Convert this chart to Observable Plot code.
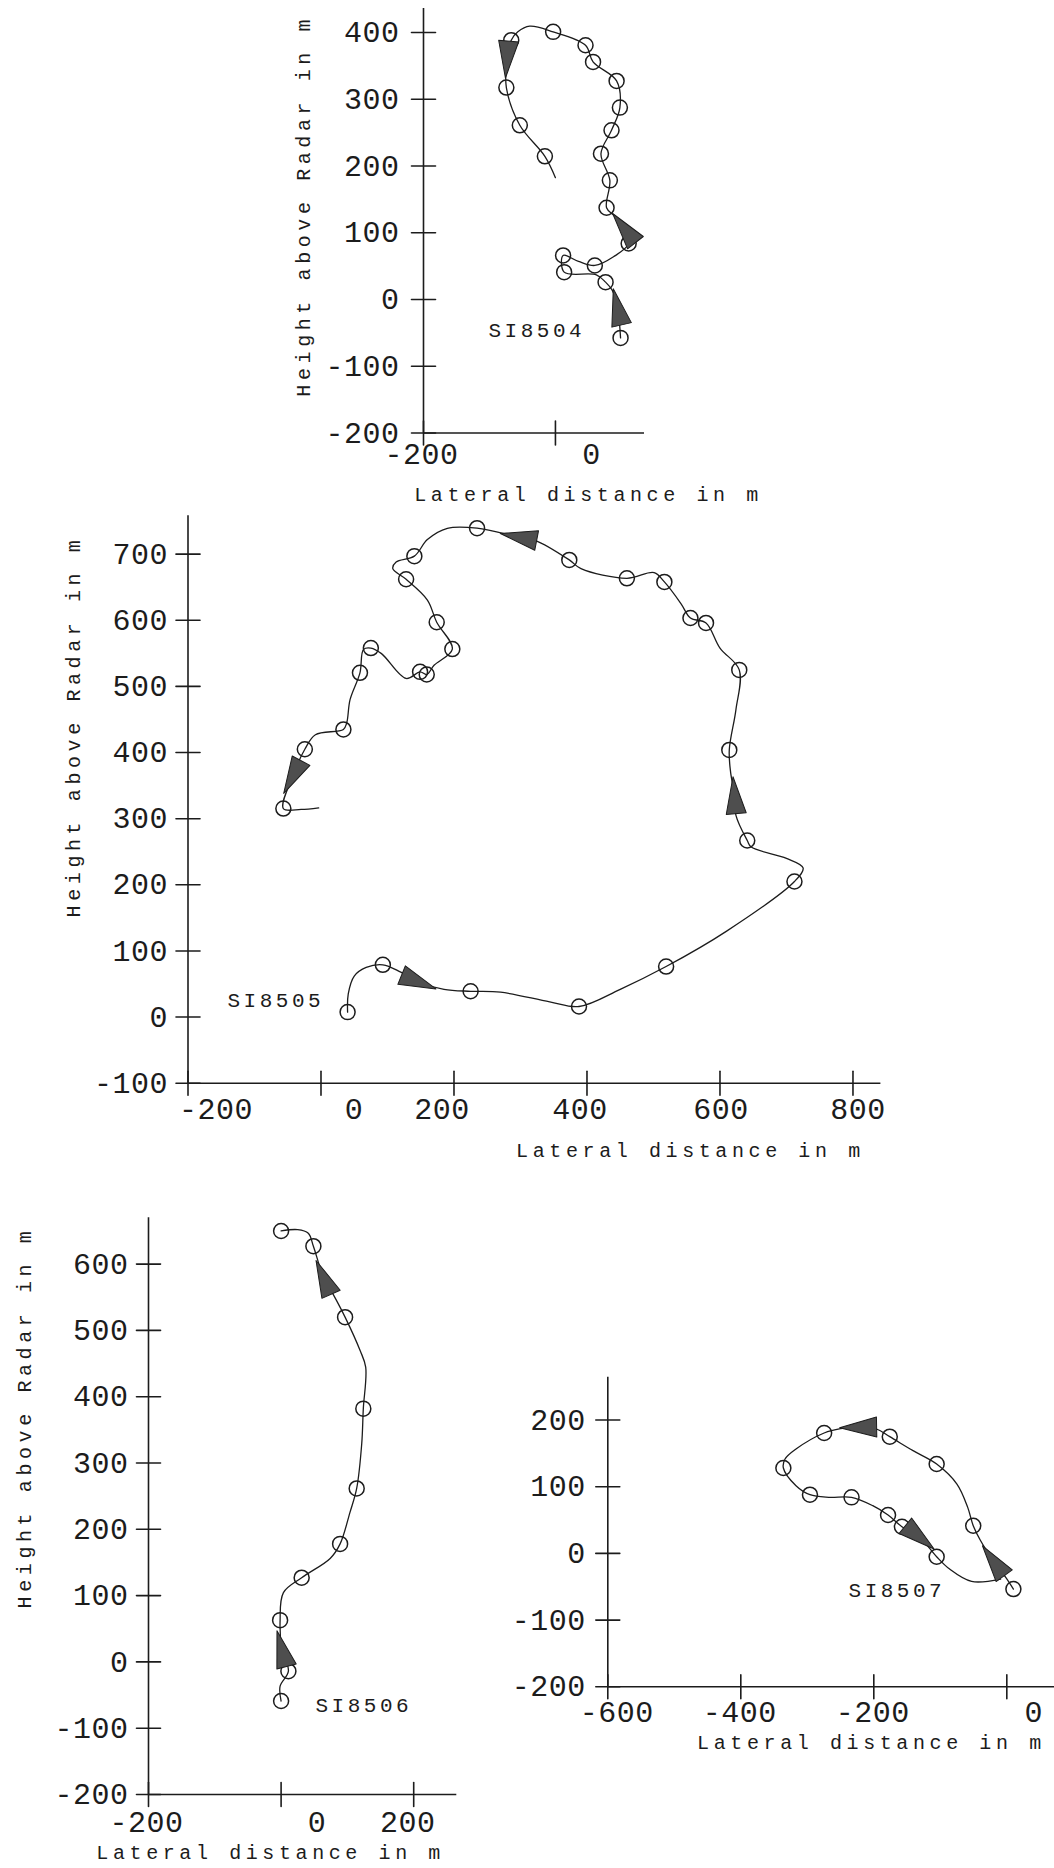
<!DOCTYPE html>
<html><head><meta charset="utf-8">
<script src="https://cdn.jsdelivr.net/npm/d3@7"></script>
<script src="https://cdn.jsdelivr.net/npm/@observablehq/plot@0.6"></script>
<style>
html,body{margin:0;padding:0;background:#fff;}
#page{position:relative;width:1054px;height:1868px;overflow:hidden;background:#fff;}
#page svg{position:absolute;overflow:visible;}
g[font-size="30"] text{letter-spacing:0.5px;}
g[font-size="20"] text{letter-spacing:4.6px;}
g[font-size="21"] text{letter-spacing:3.5px;}
</style></head><body><div id="page"></div>
<script>
// ---------- DATA ----------
// Kind: "o" = plotted position (circle), "." = track vertex, ">" = direction arrow on the track
const si8504X = [98.7, 94, 86, 76, 62, 13.2, 11.6, 35, 59.7, 88, 111, 104, 88.6, 77.5, 82.5, 69, 85, 97.7, 92.7, 57, 45.6, -3.5, -39, -57, -67, -73.4, -74.4, -54, -16, 0];
const si8504Y = [-57.5, -11, 14, 26, 37, 41, 66, 57, 51, 64, 84, 107, 126, 137.5, 178.5, 218.5, 253.5, 287.5, 327.5, 356, 381, 401, 409.5, 401, 388.5, 359.5, 317.5, 261, 214.5, 182.5];
const si8504Kind = ["o", ">", ".", "o", ".", "o", "o", ".", "o", ".", "o", ">", ".", "o", "o", "o", "o", "o", "o", "o", "o", "o", ".", ".", "o", ">", "o", "o", "o", "."];
const si8504ArrowDeg = [-13, -38, 185];

const si8505X = [40, 41, 50, 68, 93, 120, 147, 185, 225, 270, 344, 388, 450, 519, 610, 712, 725, 700, 647, 641, 624, 622, 616, 614, 624, 629, 600, 579, 555.6, 541.5, 516.4, 501, 460, 391, 373.4, 322, 297, 234.7, 190, 160, 140.4, 113, 108, 128, 160, 174, 197.5, 170, 159, 149, 128, 91, 75, 64, 58.6, 43.7, 38.7, 33.7, -8.4, -24.3, -43, -56.6, -30, -3.5];
const si8505Y = [7.5, 35, 62, 75, 79, 68, 53, 42, 39, 37.6, 23, 16, 42, 76.4, 130, 205, 225.6, 240, 257, 267, 305, 335.5, 370, 404, 465, 525, 558, 596, 603.4, 625, 658, 672, 663.5, 678, 691.3, 721, 726, 739.3, 739, 722, 697, 688, 678, 662, 630.6, 597, 556.5, 532, 518, 522, 512, 549.6, 558, 556, 520.6, 480, 445, 435, 427, 405, 363, 315.3, 314, 316.4];
const si8505Kind = ["o", ".", ".", ".", "o", ".", ">", ".", "o", ".", ".", "o", ".", "o", ".", "o", ".", ".", ".", "o", ".", ">", ".", "o", ".", "o", ".", "o", "o", ".", "o", ".", "o", ".", "o", ".", ">", "o", ".", ".", "o", ".", ".", "o", ".", "o", "o", ".", "o", "o", ".", ".", "o", ".", "o", ".", ".", "o", ".", "o", ">", "o", ".", "."];
const si8505ArrowDeg = [112, -5, -79, -152];

const si8506X = [0, -1.5, 11, 1, -1.5, 3.5, 31, 74, 89, 104, 114, 121.6, 124, 127.6, 119, 96.5, 79, 64, 48.7, 41, 25, 0];
const si8506Y = [-59, -36.6, -14, 20, 63, 104.5, 127, 156, 178, 226, 261.7, 329, 382, 444.5, 470, 520, 553.6, 580, 627, 646.5, 652, 650];
const si8506Kind = ["o", ".", "o", ">", "o", ".", "o", ".", "o", ".", "o", ".", "o", ".", ".", "o", ".", ">", "o", ".", ".", "o"];
const si8506ArrowDeg = [-15, -24];

const si8507X = [9.9, -1.6, -20.3, -40, -50.5, -58.8, -75, -105.5, -141, -176, -196, -223.6, -250, -274.7, -317, -333.5, -336, -317, -296, -267.6, -233.5, -201.6, -178.6, -157.7, -131, -105.5, -86, -53, -9.3];
const si8507Y = [-53.5, -36, -11, 20, 41.5, 69, 104, 134, 154, 175, 186.5, 189, 187, 180.5, 156.5, 141.5, 128, 101.5, 88, 84, 84, 71.5, 57.5, 40, 24, -5, -23.5, -42, -38.5];
const si8507Kind = ["o", ".", ">", ".", "o", ".", ".", "o", ".", "o", ".", ">", ".", "o", ".", ".", "o", ".", "o", ".", "o", ".", "o", "o", ">", "o", ".", ".", "."];
const si8507ArrowDeg = [-36, -91, 129];

// flight id label anchors (data units)
const idLabels = [
  {id: "SI8504", x: -101.5, y: -46.4},
  {id: "SI8505", x: -140.6, y: 26},
  {id: "SI8506", x: 51.9, y: -65.8},
  {id: "SI8507", x: -238, y: -55.6}
];

// tick values
const p1XTicks = [-200, 0];
const p1YTicks = [-200, -100, 0, 100, 200, 300, 400];
const p2XTicks = [-200, 0, 200, 400, 600, 800];
const p2YTicks = [-100, 0, 100, 200, 300, 400, 500, 600, 700];
const p3XTicks = [-200, 0, 200];
const p3YTicks = [-200, -100, 0, 100, 200, 300, 400, 500, 600];
const p4XTicks = [-600, -400, -200, 0];
const p4YTicks = [-200, -100, 0, 100, 200];

const xTitle = "Lateral distance in m";
const yTitle = "Height above Radar in m";

// ---------- DRAWING ----------
const FONT = "'Liberation Mono', 'DejaVu Sans Mono', monospace";
const INK = "#1c1c1c";
const triangleShape = {
  draw(context, l) {
    const w = 10;
    context.moveTo(-w, 0);
    context.lineTo(0, -l);
    context.lineTo(w, 0);
    context.closePath();
  }
};
const tickShape = {
  draw(context, l) {
    context.moveTo(0, 0);
    context.lineTo(0, -l);
  }
};

function panel(cfg) {
  const {left, top, width, height, x0px, x1px, y0px, y1px, xDomain, yDomain,
    xTicks, yTicks, xLabelDx, xLabelDy, yLabelDx, X, Y, K, A, label,
    xTitleD, yTitleD} = cfg;
  const idx = d3.range(X.length);
  const circles = idx.filter(i => K[i] === "o");
  const arrows = idx.filter(i => K[i] === ">");
  const rot = i => A[arrows.indexOf(i)];
  const marks = [
    Plot.ruleX([xDomain[0]], {stroke: INK, strokeWidth: 1.6}),
    Plot.ruleY([yDomain[0]], {stroke: INK, strokeWidth: 1.6}),
    Plot.vector(xTicks, {x: d => d, y: () => yDomain[0], length: 24, rotate: 0, anchor: "middle", shape: tickShape, stroke: INK, strokeWidth: 1.6}),
    Plot.vector(yTicks, {x: () => xDomain[0], y: d => d, length: 24, rotate: 90, anchor: "middle", shape: tickShape, stroke: INK, strokeWidth: 1.6}),
    ...xTicks.map((t, i) => Plot.text([t], {x: d => d, frameAnchor: "bottom", lineAnchor: "middle", textAnchor: "middle", dy: xLabelDy, dx: xLabelDx[i], fontSize: 30, fill: INK})),
    Plot.text(yTicks, {y: d => d, frameAnchor: "left", dx: yLabelDx, textAnchor: "end", lineAnchor: "middle", fontSize: 30, fill: INK}),
    Plot.line(idx, {x: i => X[i], y: i => Y[i], curve: "catmull-rom", stroke: INK, strokeWidth: 1.3}),
    Plot.dot(circles, {x: i => X[i], y: i => Y[i], r: 7.5, stroke: INK, strokeWidth: 1.5, fill: "none"}),
    Plot.vector(arrows, {x: i => X[i], y: i => Y[i], rotate: rot, length: 37, anchor: "middle", shape: triangleShape, fill: "#4e4e4e", stroke: INK, strokeWidth: 1}),
    Plot.text([label.id], {x: () => label.x, y: () => label.y, textAnchor: "start", lineAnchor: "middle", fontSize: 21, fill: INK}),
    Plot.text([xTitle], {frameAnchor: "bottom", textAnchor: "middle", lineAnchor: "middle", dx: xTitleD[0], dy: xTitleD[1], fontSize: 20, fill: INK})
  ];
  if (yTitleD) marks.push(Plot.text([yTitle], {frameAnchor: "left", rotate: -90, textAnchor: "middle", lineAnchor: "middle", dx: yTitleD[0], dy: yTitleD[1], fontSize: 20, fill: INK}));
  const svg = Plot.plot({
    width, height,
    marginLeft: x0px - left, marginRight: left + width - x1px,
    marginTop: y1px - top, marginBottom: top + height - y0px,
    x: {domain: xDomain, axis: null}, y: {domain: yDomain, axis: null},
    style: {fontFamily: FONT, color: INK, background: "transparent", overflow: "visible"},
    marks
  });
  svg.style.position = "absolute";
  svg.style.left = left + "px";
  svg.style.top = top + "px";
  return svg;
}

const panels = [
  {left: 0, top: 0, width: 800, height: 520, x0px: 423, x1px: 644, y0px: 432.5, y1px: 8,
   xDomain: [-200, 135], yDomain: [-200, 436], xTicks: p1XTicks, yTicks: p1YTicks,
   xLabelDx: [-2, 36], xLabelDy: 21, yLabelDx: -24,
   X: si8504X, Y: si8504Y, K: si8504Kind, A: si8504ArrowDeg, label: idLabels[0],
   xTitleD: [54.5, 61.5], yTitleD: [-120, -15]},
  {left: 0, top: 480, width: 1054, height: 700, x0px: 187.5, x1px: 880.4, y0px: 1082.7, y1px: 515.3,
   xDomain: [-200, 842], yDomain: [-100, 758], xTicks: p2XTicks, yTicks: p2YTicks,
   xLabelDx: [28, 33, -12, -7, 1, 5], xLabelDy: 26, yLabelDx: -20,
   X: si8505X, Y: si8505Y, K: si8505Kind, A: si8505ArrowDeg, label: idLabels[1],
   xTitleD: [156, 67.3], yTitleD: [-114, -73]},
  {left: 0, top: 1190, width: 520, height: 678, x0px: 148, x1px: 456.3, y0px: 1794, y1px: 1217.2,
   xDomain: [-200, 265], yDomain: [-200, 670], xTicks: p3XTicks, yTicks: p3YTicks,
   xLabelDx: [-2, 36, -6], xLabelDy: 28, yLabelDx: -20,
   X: si8506X, Y: si8506Y, K: si8506Kind, A: si8506ArrowDeg, label: idLabels[2],
   xTitleD: [-32, 58.5], yTitleD: [-124, -88.6]},
  {left: 560, top: 1340, width: 494, height: 528, x0px: 607.3, x1px: 1054, y0px: 1686.3, y1px: 1376.8,
   xDomain: [-600, 71.7], yDomain: [-200, 264], xTicks: p4XTicks, yTicks: p4YTicks,
   xLabelDx: [9, -1, -1, 27], xLabelDy: 26, yLabelDx: -22,
   X: si8507X, Y: si8507Y, K: si8507Kind, A: si8507ArrowDeg, label: idLabels[3],
   xTitleD: [40.3, 55.4], yTitleD: null}
];

const page = document.getElementById("page");
for (const cfg of panels) page.appendChild(panel(cfg));
</script></body></html>
